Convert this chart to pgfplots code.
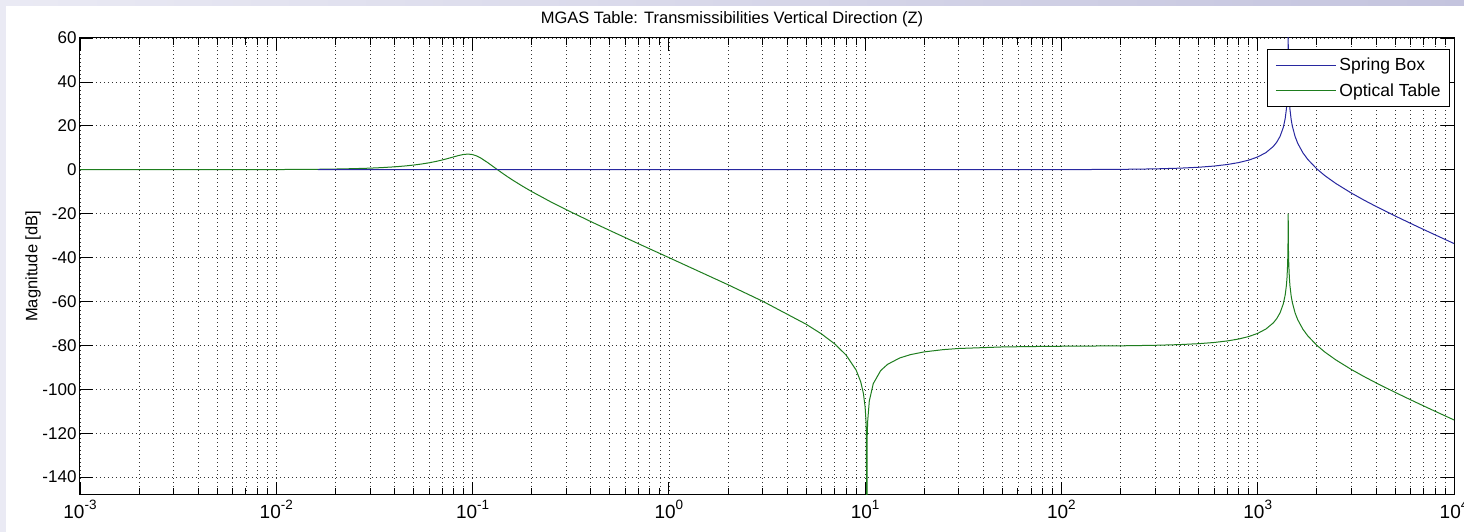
\documentclass[border=0pt]{standalone}
\usepackage{pgfplots}
\pgfplotsset{compat=1.18}
\usepackage{fontspec}
\setmainfont{Liberation Sans}
\definecolor{sbblue}{RGB}{40,40,160}
\definecolor{otgreen}{RGB}{30,125,30}
\definecolor{lavL}{RGB}{234,234,244}
\definecolor{lavR}{RGB}{196,196,222}
\newcommand\tenpow[1]{10\raisebox{8.5pt}{\fontsize{13.5}{14}\selectfont #1}}
\begin{document}
\begin{tikzpicture}
\useasboundingbox (0pt,0pt) rectangle (1464pt,532pt);
\fill[lavL] (0pt,0pt) rectangle (1464pt,532pt);
\shade[left color=lavL, right color=lavR] (0pt,526pt) rectangle (1464pt,532pt);
\fill[white] (6pt,0pt) rectangle (1464pt,526pt);
\begin{axis}[
  at={(80pt,37.3pt)}, anchor=south west,
  scale only axis, width=1374pt, height=456.7pt,
  xmode=log, xmin=1e-3, xmax=1e4, ymin=-148, ymax=60,
  xtick={1e-3,1e-2,1e-1,1,10,100,1000,10000},
  xticklabels={\tenpow{-3},\tenpow{-2},\tenpow{-1},\tenpow{0},\tenpow{1},\tenpow{2},\tenpow{3},\tenpow{4}},
  minor xtick={2e-3,3e-3,4e-3,5e-3,6e-3,7e-3,8e-3,9e-3,
    0.02,0.03,0.04,0.05,0.06,0.07,0.08,0.09,
    0.2,0.3,0.4,0.5,0.6,0.7,0.8,0.9,
    2,3,4,5,6,7,8,9,
    20,30,40,50,60,70,80,90,
    200,300,400,500,600,700,800,900,
    2000,3000,4000,5000,6000,7000,8000,9000},
  ytick={-140,-120,-100,-80,-60,-40,-20,0,20,40,60},
  yticklabels={-140,-120,-100,-80,-60,-40,-20,0,20,40,60},
  xticklabel style={font=\fontsize{19}{22}\selectfont, yshift=-2pt},
  yticklabel style={font=\fontsize{17}{20}\selectfont},
  tick align=inside,
  major tick length=13pt, minor tick length=7pt,
  tick style={black, line width=0.8pt},
  axis line style={black, line width=1pt},
  xmajorgrids, xminorgrids, ymajorgrids,
  major grid style={black!80, line width=0.7pt, dash pattern=on 0.8pt off 3.2pt},
  minor grid style={black!80, line width=0.7pt, dash pattern=on 0.8pt off 3.2pt},
  title={MGAS Table: Transmissibilities Vertical Direction (Z)},
  title style={at={(0.5,1)}, anchor=base, yshift=8pt, xshift=-35pt, font=\fontsize{16.5}{20}\selectfont},
  ylabel={Magnitude [dB]},
  ylabel style={at={(axis description cs:-0.031,0.5)}, anchor=base, font=\fontsize{16.5}{20}\selectfont},
  reverse legend,
  legend cell align=left,
  legend image code/.code={\draw[#1] (0pt,0pt) -- (60pt,0pt);},
  legend style={at={(1,1)}, anchor=north east, xshift=-4pt, yshift=-11.3pt,
    draw=black, line width=0.8pt, fill=white, inner xsep=8pt, inner ysep=7.5pt,
    row sep=9pt, column sep=2pt,
    font=\fontsize{17.5}{20}\selectfont, nodes={inner sep=1pt}},
]
\addplot[draw=otgreen, line width=1pt] coordinates {
(0.001,0.00) (0.005,0.02) (0.01,0.08) (0.0163,0.21) (0.02,0.32) (0.025,0.50)
(0.03,0.72) (0.035,1.00) (0.04,1.32) (0.045,1.69) (0.05,2.12) (0.055,2.61)
(0.06,3.16) (0.065,3.77) (0.07,4.43) (0.075,5.14) (0.08,5.84) (0.085,6.49)
(0.09,6.96) (0.095,7.12) (0.1,6.90) (0.105,6.28) (0.11,5.36) (0.12,3.12)
(0.13,0.86) (0.14,-1.21) (0.15,-3.06) (0.16,-4.71) (0.18,-7.54) (0.2,-9.92)
(0.25,-14.61) (0.3,-18.19) (0.4,-23.60) (0.5,-27.66) (0.7,-33.69) (1,-40.01)
(2,-52.36) (3,-59.86) (5,-70.34) (6,-74.81) (7,-79.33) (8,-84.42) (9,-91.26)
(9.5,-96.66) (9.8,-101.93) (10,-108.22) (10.1,-114.37) (10.15,-120.45)
(10.2,-200) (10.25,-120.58) (10.3,-114.62) (10.5,-105.33) (11,-97.41)
(12,-91.48) (13,-88.65) (15,-85.73) (17,-84.22) (20,-82.96) (25,-81.93)
(30,-81.41) (50,-80.71) (70,-80.53) (100,-80.39) (200,-80.20) (300,-79.96)
(400,-79.64) (500,-79.22) (600,-78.67) (700,-77.97) (800,-77.09) (900,-75.97)
(1000,-74.52) (1100,-72.57) (1200,-69.77) (1250,-67.80) (1300,-65.13)
(1350,-61.08) (1380,-57.09) (1400,-52.71) (1410,-49.22) (1420,-43.25)
(1425,-37.31) (1428,-29.76) (1430,-19.96) (1432,-29.77) (1435,-37.34)
(1440,-43.31) (1450,-49.34) (1460,-52.90) (1480,-57.39) (1500,-60.37)
(1550,-65.20) (1600,-68.37) (1700,-72.67) (1800,-75.68) (2000,-79.96)
(2200,-83.06) (2500,-86.61) (3000,-90.98) (3500,-94.31) (4000,-97.03)
(5000,-101.35) (6000,-104.75) (7000,-107.57) (8000,-109.98) (9000,-112.08)
(10000,-113.96)
};
\addlegendentry{Optical Table}
\addplot[draw=sbblue, line width=1pt] coordinates {
(0.0163,0) (1,0) (10,0) (100,0.04) (200,0.17) (300,0.39) (400,0.71)
(500,1.13) (600,1.68) (700,2.38) (800,3.26) (900,4.38) (1000,5.83)
(1100,7.78) (1200,10.58) (1250,12.55) (1300,15.21) (1350,19.27)
(1380,23.26) (1400,27.64) (1410,31.13) (1420,37.10) (1425,43.04)
(1428,50.59) (1430,60.39) (1432,50.58) (1435,43.01) (1440,37.04)
(1450,31.01) (1460,27.45) (1480,22.96) (1500,19.97) (1550,15.15)
(1600,11.98) (1700,7.68) (1800,4.67) (2000,0.39) (2200,-2.72)
(2500,-6.26) (3000,-10.63) (3500,-13.96) (4000,-16.68) (5000,-21.00)
(6000,-24.40) (7000,-27.22) (8000,-29.63) (9000,-31.73) (10000,-33.61)
};
\addlegendentry{Spring Box}
\end{axis}
\end{tikzpicture}
\end{document}
